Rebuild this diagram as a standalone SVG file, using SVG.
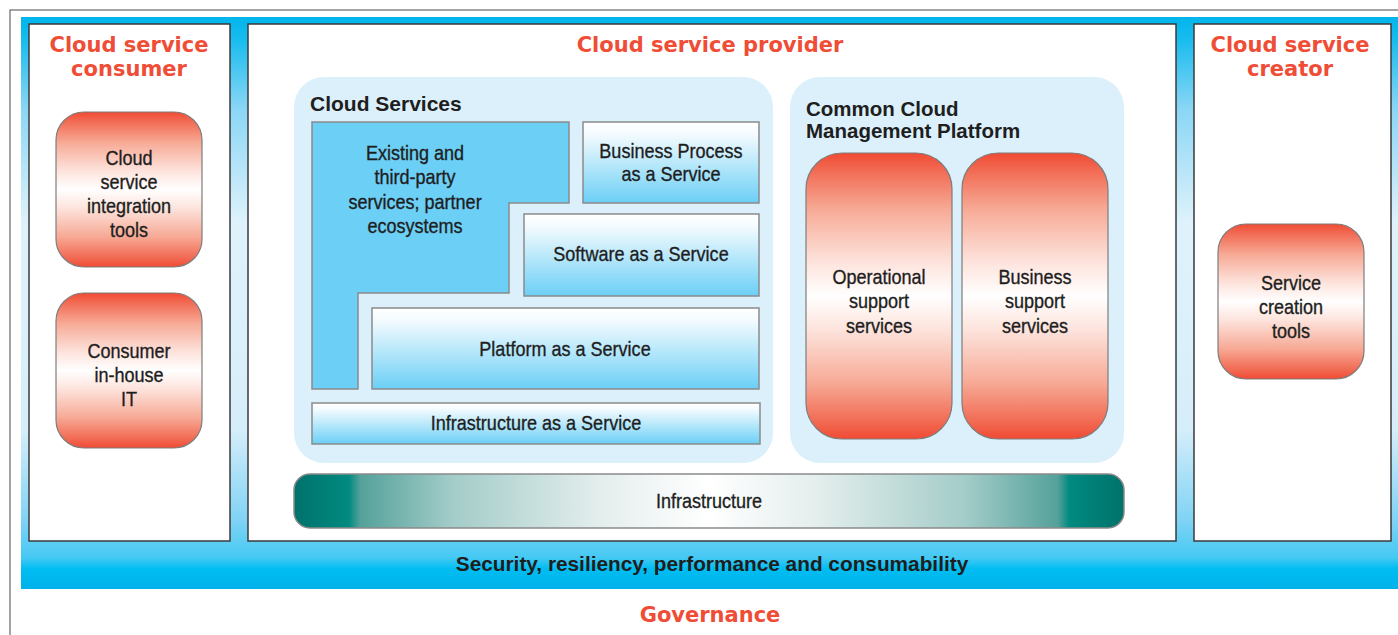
<svg xmlns="http://www.w3.org/2000/svg" width="1398" height="635" viewBox="0 0 1398 635">
  <style>
    .title { font-family: "DejaVu Sans", Verdana, sans-serif; font-weight: 700; font-size: 21px; fill: #ef4d36; text-anchor: middle; }
    .head { font-family: "Liberation Sans", Arial, sans-serif; font-weight: 700; font-size: 21px; fill: #1e1e1e; }
    .lbl { font-family: "Liberation Sans", Arial, sans-serif; font-size: 20.5px; fill: #1e1e1e; stroke: #1e1e1e; stroke-width: 0.35; text-anchor: middle;
           transform-box: fill-box; transform-origin: center; transform: scaleX(0.88); }
    .col { fill: #ffffff; stroke: #3a3a3a; stroke-width: 1.5; }
    .panel { fill: #dcf0fb; }
    .tool { fill: url(#redFade); stroke: #7d7d7d; stroke-width: 1.2; }
    .svc { fill: url(#blueFade); stroke: #8a8a8a; stroke-width: 1.5; }
  </style>
  <defs>
    <linearGradient id="band" x1="0" y1="0" x2="0" y2="1">
      <stop offset="0" stop-color="#00b5ec"/>
      <stop offset="0.04" stop-color="#19bcef"/>
      <stop offset="0.16" stop-color="#8ad6f5"/>
      <stop offset="0.36" stop-color="#dff2fb"/>
      <stop offset="0.72" stop-color="#d6eefa"/>
      <stop offset="0.88" stop-color="#80d3f5"/>
      <stop offset="0.945" stop-color="#45c9f3"/>
      <stop offset="0.965" stop-color="#00bdf2"/>
      <stop offset="1" stop-color="#00b1ea"/>
    </linearGradient>
    <linearGradient id="redFade" x1="0" y1="0" x2="0" y2="1">
      <stop offset="0" stop-color="#f04a33"/>
      <stop offset="0.06" stop-color="#f26a53"/>
      <stop offset="0.2" stop-color="#f7ab97"/>
      <stop offset="0.38" stop-color="#fde3dc"/>
      <stop offset="0.5" stop-color="#ffffff"/>
      <stop offset="0.62" stop-color="#fde3dc"/>
      <stop offset="0.8" stop-color="#f7ab97"/>
      <stop offset="0.94" stop-color="#f26a53"/>
      <stop offset="1" stop-color="#f04a33"/>
    </linearGradient>
    <linearGradient id="blueFade" x1="0" y1="0" x2="0" y2="1">
      <stop offset="0" stop-color="#ffffff"/>
      <stop offset="0.15" stop-color="#f4fbfe"/>
      <stop offset="1" stop-color="#6bcff6"/>
    </linearGradient>
    <linearGradient id="teal" x1="0" y1="0" x2="1" y2="0">
      <stop offset="0" stop-color="#00726b"/>
      <stop offset="0.066" stop-color="#008a80"/>
      <stop offset="0.08" stop-color="#55a19b"/>
      <stop offset="0.19" stop-color="#a3ccc8"/>
      <stop offset="0.37" stop-color="#e4eeed"/>
      <stop offset="0.5" stop-color="#ffffff"/>
      <stop offset="0.63" stop-color="#e4eeed"/>
      <stop offset="0.81" stop-color="#a3ccc8"/>
      <stop offset="0.92" stop-color="#55a19b"/>
      <stop offset="0.934" stop-color="#008a80"/>
      <stop offset="1" stop-color="#00726b"/>
    </linearGradient>
  </defs>

  <!-- frame and blue backdrop band -->
  <rect x="0" y="0" width="1398" height="635" fill="#ffffff"/>
  <rect x="10" y="10" width="1400" height="640" fill="none" stroke="#4a4a4a" stroke-width="1"/>
  <rect x="21" y="17" width="1377" height="572" fill="url(#band)"/>

  <!-- consumer column -->
  <g id="consumer">
    <rect class="col" x="29" y="24" width="201" height="517"/>
    <text class="title" x="129" y="52">Cloud service<tspan x="129" dy="24">consumer</tspan></text>
  </g>
  <g id="integration-tools">
    <rect class="tool" x="56" y="112" width="146" height="155" rx="28"/>
    <text class="lbl" x="129" y="165">Cloud<tspan x="129" dy="24">service</tspan><tspan x="129" dy="24">integration</tspan><tspan x="129" dy="24">tools</tspan></text>
  </g>
  <g id="inhouse-it">
    <rect class="tool" x="56" y="293" width="146" height="155" rx="28"/>
    <text class="lbl" x="129" y="358">Consumer<tspan x="129" dy="24">in-house</tspan><tspan x="129" dy="24">IT</tspan></text>
  </g>

  <!-- provider column -->
  <g id="provider">
    <rect class="col" x="248" y="24" width="928" height="517"/>
    <text class="title" x="710" y="52">Cloud service provider</text>
  </g>

  <g id="cloud-services">
    <rect class="panel" x="294" y="77" width="479" height="386" rx="30"/>
    <text class="head" x="310" y="111">Cloud Services</text>
  </g>
  <g id="existing-services">
    <path d="M312,122 H569 V203 H509 V293 H358 V389 H312 Z" fill="#6ccff6" stroke="#8a8a8a" stroke-width="1.5"/>
    <text class="lbl" x="415" y="160">Existing and<tspan x="415" dy="24.5">third-party</tspan><tspan x="415" dy="24.5">services; partner</tspan><tspan x="415" dy="24.5">ecosystems</tspan></text>
  </g>
  <g id="bpaas">
    <rect class="svc" x="583" y="122" width="176" height="81"/>
    <text class="lbl" x="671" y="158">Business Process<tspan x="671" dy="23">as a Service</tspan></text>
  </g>
  <g id="saas">
    <rect class="svc" x="524" y="214" width="235" height="82"/>
    <text class="lbl" x="641" y="261">Software as a Service</text>
  </g>
  <g id="paas">
    <rect class="svc" x="372" y="308" width="387" height="81"/>
    <text class="lbl" x="565" y="356">Platform as a Service</text>
  </g>
  <g id="iaas">
    <rect class="svc" x="312" y="403" width="448" height="41"/>
    <text class="lbl" x="536" y="430">Infrastructure as a Service</text>
  </g>

  <g id="management-platform">
    <rect class="panel" x="790" y="77" width="334" height="386" rx="30"/>
    <text class="head" x="806" y="116" style="font-size:20.5px">Common Cloud<tspan x="806" dy="22">Management Platform</tspan></text>
  </g>
  <g id="operational-support">
    <rect class="tool" x="806" y="153" width="146" height="286" rx="36"/>
    <text class="lbl" x="879" y="284">Operational<tspan x="879" dy="24.5">support</tspan><tspan x="879" dy="24.5">services</tspan></text>
  </g>
  <g id="business-support">
    <rect class="tool" x="962" y="153" width="146" height="286" rx="36"/>
    <text class="lbl" x="1035" y="284">Business<tspan x="1035" dy="24.5">support</tspan><tspan x="1035" dy="24.5">services</tspan></text>
  </g>

  <g id="infrastructure">
    <rect x="294" y="474" width="830" height="54" rx="16" fill="url(#teal)" stroke="#8a8a8a" stroke-width="1.5"/>
    <text class="lbl" x="709" y="508">Infrastructure</text>
  </g>

  <!-- creator column -->
  <g id="creator">
    <rect class="col" x="1194" y="24" width="197" height="517"/>
    <text class="title" x="1290" y="52">Cloud service<tspan x="1290" dy="24">creator</tspan></text>
  </g>
  <g id="creation-tools">
    <rect class="tool" x="1218" y="224" width="146" height="155" rx="28"/>
    <text class="lbl" x="1291" y="290">Service<tspan x="1291" dy="24">creation</tspan><tspan x="1291" dy="24">tools</tspan></text>
  </g>

  <!-- cross-cutting bands -->
  <g id="qualities">
    <text class="head" x="712" y="571" text-anchor="middle" style="font-size:20.8px">Security, resiliency, performance and consumability</text>
  </g>
  <g id="governance">
    <text class="title" x="710" y="622">Governance</text>
  </g>

  <!-- no connectors in this layout -->
  <g id="connectors"/>
</svg>
